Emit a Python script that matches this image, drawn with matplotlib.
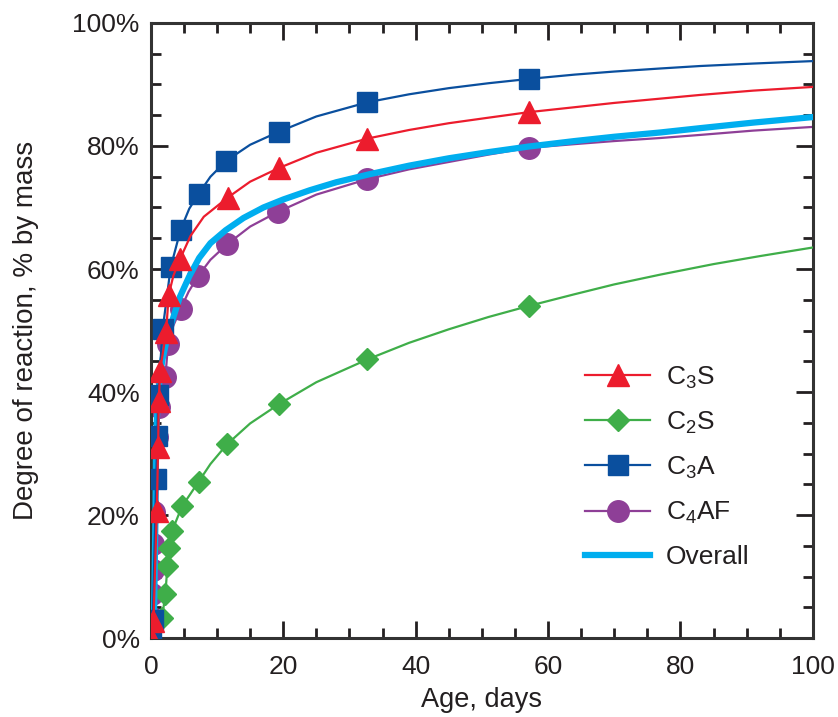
import numpy as np
import matplotlib
matplotlib.use("Agg")
import matplotlib.pyplot as plt
from matplotlib.ticker import MultipleLocator, FuncFormatter

plt.rcParams['font.family'] = ['Liberation Sans', 'DejaVu Sans']
plt.rcParams['mathtext.fontset'] = 'custom'
plt.rcParams['mathtext.rm'] = 'Liberation Sans'

INK = '#231f20'

# --- data (age in days, degree of reaction in %) ---
c3s_age = [0, 0.4, 0.9, 1.1, 1.2, 1.4, 2.3, 2.7, 4.4, 11.6, 19.3, 32.7, 57.1]
c3s_val = [0, 2.8, 20.7, 31.0, 38.5, 43.5, 49.7, 55.8, 61.6, 71.6, 76.4, 81.2, 85.5]
c3s_line_age = [0, 0.4, 0.9, 1.1, 1.2, 1.4, 2.3, 2.7, 3.4, 4.4, 6, 8, 11.6, 15, 19.3,
                25, 32.7, 39, 45, 51, 57.1, 64, 70, 77, 83, 91, 100]
c3s_line_val = [0, 2.8, 20.7, 31.0, 38.5, 43.5, 49.7, 55.8, 58.9, 61.6, 65.4, 68.5, 71.6,
                74.2, 76.4, 78.9, 81.2, 82.6, 83.7, 84.6, 85.5, 86.3, 87.0, 87.7, 88.3, 89.0, 89.6]

c2s_age = [1.7, 2.2, 2.5, 2.7, 3.2, 4.7, 7.2, 11.5, 19.3, 32.7, 57.1]
c2s_val = [3.3, 7.2, 11.7, 14.7, 17.4, 21.4, 25.4, 31.5, 38.0, 45.3, 54.0]
c2s_line_age = [0, 0.8, 1.7, 2.2, 2.5, 2.7, 3.2, 4.7, 7.2, 9, 11.5, 15, 19.3, 25, 32.7,
                39, 45, 51, 57.1, 64, 70, 77, 85, 92, 100]
c2s_line_val = [0, 1.0, 3.3, 7.2, 11.7, 14.7, 17.4, 21.4, 25.4, 28.3, 31.5, 34.9, 38.0,
                41.6, 45.3, 48.0, 50.2, 52.2, 54.0, 55.9, 57.5, 59.1, 60.8, 62.1, 63.5]

c3a_age = [0, 0.3, 0.8, 1.0, 1.1, 1.8, 3.0, 4.5, 7.2, 11.4, 19.3, 32.7, 57.1]
c3a_val = [0, 3.0, 25.8, 32.8, 39.6, 50.3, 60.3, 66.4, 72.2, 77.6, 82.3, 87.1, 90.9]
c3a_line_age = [0, 0.3, 0.8, 1.0, 1.1, 1.8, 3.0, 4.5, 5.8, 7.2, 9, 11.4, 15, 19.3, 25,
                32.7, 39, 45, 51, 57.1, 64, 70, 77, 83, 91, 100]
c3a_line_val = [0, 3.0, 25.8, 32.8, 39.6, 50.3, 60.3, 66.4, 69.8, 72.2, 75.0, 77.6, 80.2,
                82.3, 84.8, 87.1, 88.4, 89.4, 90.2, 90.9, 91.6, 92.1, 92.6, 93.0, 93.4, 93.8]

c4af_age = [0.2, 0.2, 0.3, 0.3, 0.5, 0.9, 1.3, 2.2, 2.6, 4.5, 7.1, 11.5, 19.2, 32.7, 57.1]
c4af_val = [3.3, 7.2, 11.0, 15.3, 20.5, 32.7, 37.5, 42.5, 47.8, 53.5, 58.8, 64.0, 69.3, 74.6, 79.7]
c4af_line_age = [0, 0.2, 0.2, 0.3, 0.3, 0.5, 0.9, 1.3, 2.2, 2.6, 3.4, 4.5, 5.7, 7.1, 9,
                 11.5, 15, 19.2, 25, 32.7, 39, 45, 51, 57.1, 64, 70, 77, 83, 91, 100]
c4af_line_val = [0, 3.3, 7.2, 11.0, 15.3, 20.5, 32.7, 37.5, 42.5, 47.8, 50.8, 53.5, 56.3,
                 58.8, 61.5, 64.0, 66.9, 69.3, 72.1, 74.6, 76.2, 77.4, 78.6, 79.7, 80.3,
                 80.8, 81.3, 81.8, 82.5, 83.1]

overall_age = [0, 0.5, 0.7, 0.8, 1.1, 1.7, 2.5, 3.5, 4.4, 5.8, 7.3, 9, 11.3, 14, 17, 20,
               24, 28, 33, 39, 45, 51, 57, 64, 70, 77, 83, 91, 100]
overall_val = [0, 5, 20, 33, 40, 45, 49, 52.5, 55.5, 58.8, 61.8, 64.2, 66.3, 68.3, 70.0,
               71.3, 72.8, 74.1, 75.4, 76.8, 78.0, 79.0, 79.9, 80.8, 81.5, 82.2, 82.9, 83.8, 84.7]

fig = plt.figure(figsize=(8.38, 7.17), dpi=100)
ax = fig.add_axes([0.180, 0.110, 0.790, 0.858])


def phase(age, val, line_age, line_val, color, marker, ms, label, z):
    ax.plot(line_age, line_val, color=color, lw=1.6, zorder=z,
            solid_joinstyle='round')
    ax.plot(age, val, linestyle='none', marker=marker, ms=ms, color=color,
            mec=color, zorder=z + 0.5)
    ax.plot([], [], color=color, lw=1.6, marker=marker, ms=ms, label=label)


phase(c4af_age, c4af_val, c4af_line_age, c4af_line_val, '#8e3f97', 'o', 15.5,
      r'C$\mathregular{_4}$AF', 2)
phase(c2s_age, c2s_val, c2s_line_age, c2s_line_val, '#3fae49', 'D', 11.5,
      r'C$\mathregular{_2}$S', 3)
ax.plot(overall_age, overall_val, color='#00aeef', lw=4.5, zorder=4.2,
        solid_joinstyle='round')
phase(c3a_age, c3a_val, c3a_line_age, c3a_line_val, '#0a4f9e', 's', 14.5,
      r'C$\mathregular{_3}$A', 5)
phase(c3s_age, c3s_val, c3s_line_age, c3s_line_val, '#ec1c2d', '^', 16.5,
      r'C$\mathregular{_3}$S', 6)
ax.plot([], [], color='#00aeef', lw=4.5, label='Overall')

handles, labels = ax.get_legend_handles_labels()
order = [3, 1, 2, 0, 4]
leg = ax.legend([handles[i] for i in order], [labels[i] for i in order],
                loc='lower right', bbox_to_anchor=(0.92, 0.095), frameon=False,
                fontsize=19, handlelength=2.45, labelspacing=0.72,
                handletextpad=0.6, borderaxespad=0)
for t in leg.get_texts():
    t.set_color(INK)

ax.set_xlim(0, 100)
ax.set_ylim(0, 100)
ax.xaxis.set_major_locator(MultipleLocator(20))
ax.xaxis.set_minor_locator(MultipleLocator(5))
ax.yaxis.set_major_locator(MultipleLocator(20))
ax.yaxis.set_minor_locator(MultipleLocator(5))
ax.yaxis.set_major_formatter(FuncFormatter(lambda v, p: f'{v:.0f}%'))

ax.tick_params(which='both', direction='in', top=True, right=True,
               colors=INK, width=2, labelsize=19)
ax.tick_params(which='major', length=12)
ax.tick_params(which='minor', length=7)
ax.tick_params(axis='x', which='major', pad=12)
ax.tick_params(axis='y', which='major', pad=8)
for s in ax.spines.values():
    s.set_linewidth(2.2)
    s.set_color('#333333')

ax.set_xlabel('Age, days', fontsize=19.5, color=INK, labelpad=6)
ax.set_ylabel('Degree of reaction, % by mass', fontsize=20, color=INK, labelpad=24)

fig.savefig('out.png', dpi=100)
